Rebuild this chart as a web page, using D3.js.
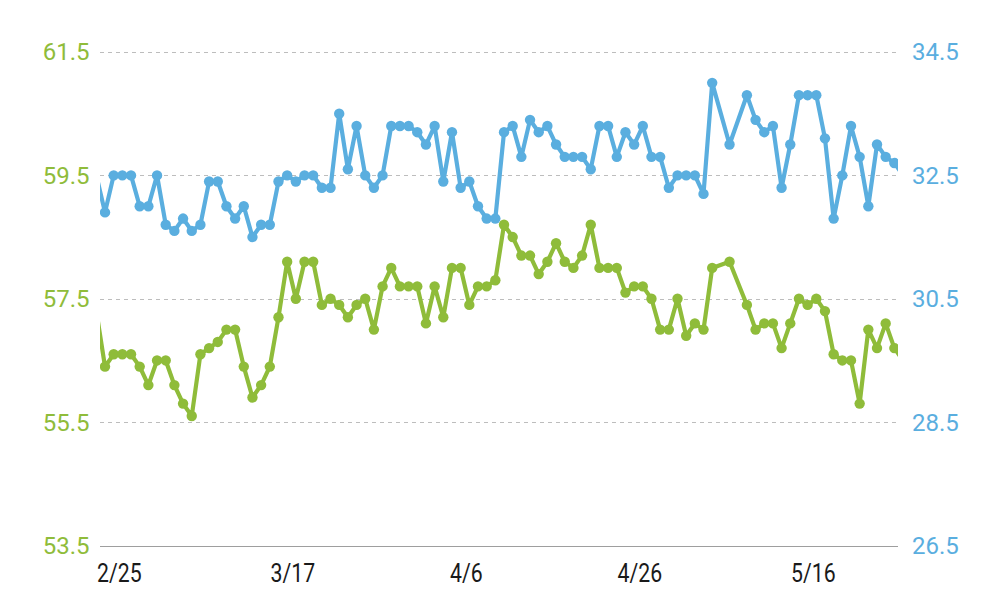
<!DOCTYPE html>
<html><head><meta charset="utf-8">
<script src="https://cdn.jsdelivr.net/npm/d3@7"></script>
<style>body{margin:0;background:#fff;overflow:hidden}</style>
</head><body><svg id="c" width="1000" height="600"></svg>
<script>
const year = 2019;
const dates = ["2/22","2/23","2/24","2/25","2/26","2/27","2/28","3/1","3/2","3/3","3/4","3/5","3/6","3/7","3/8","3/9","3/10","3/11","3/12","3/13","3/14","3/15","3/16","3/17","3/18","3/19","3/20","3/21","3/22","3/23","3/24","3/25","3/26","3/27","3/28","3/29","3/30","3/31","4/1","4/2","4/3","4/4","4/5","4/6","4/7","4/8","4/9","4/10","4/11","4/12","4/13","4/14","4/15","4/16","4/17","4/18","4/19","4/20","4/21","4/22","4/23","4/24","4/25","4/26","4/27","4/28","4/29","4/30","5/1","5/2","5/3","5/4","5/6","5/8","5/9","5/10","5/11","5/12","5/13","5/14","5/15","5/16","5/17","5/18","5/19","5/20","5/21","5/22","5/23","5/24","5/25","5/26"];
const leftSeries = [57.3,56.4,56.6,56.6,56.6,56.4,56.1,56.5,56.5,56.1,55.8,55.6,56.6,56.7,56.8,57.0,57.0,56.4,55.9,56.1,56.4,57.2,58.1,57.5,58.1,58.1,57.4,57.5,57.4,57.2,57.4,57.5,57.0,57.7,58.0,57.7,57.7,57.7,57.1,57.7,57.2,58.0,58.0,57.4,57.7,57.7,57.8,58.7,58.5,58.2,58.2,57.9,58.1,58.4,58.1,58.0,58.2,58.7,58.0,58.0,58.0,57.6,57.7,57.7,57.5,57.0,57.0,57.5,56.9,57.1,57.0,58.0,58.1,57.4,57.0,57.1,57.1,56.7,57.1,57.5,57.4,57.5,57.3,56.6,56.5,56.5,55.8,57.0,56.7,57.1,56.7,56.5];
const rightSeries = [32.5,31.9,32.5,32.5,32.5,32.0,32.0,32.5,31.7,31.6,31.8,31.6,31.7,32.4,32.4,32.0,31.8,32.0,31.5,31.7,31.7,32.4,32.5,32.4,32.5,32.5,32.3,32.3,33.5,32.6,33.3,32.5,32.3,32.5,33.3,33.3,33.3,33.2,33.0,33.3,32.4,33.2,32.3,32.4,32.0,31.8,31.8,33.2,33.3,32.8,33.4,33.2,33.3,33.0,32.8,32.8,32.8,32.6,33.3,33.3,32.8,33.2,33.0,33.3,32.8,32.8,32.3,32.5,32.5,32.5,32.2,34.0,33.0,33.8,33.4,33.2,33.3,32.3,33.0,33.8,33.8,33.8,33.1,31.8,32.5,33.3,32.8,32.0,33.0,32.8,32.7,32.5];
const leftTicks = [53.5,55.5,57.5,59.5,61.5];
const rightTicks = [26.5,28.5,30.5,32.5,34.5];
const xTickLabels = ["2/25","3/17","4/6","4/26","5/16"];

const GREEN = "#8fbc3a", BLUE = "#5aaedf";
const parse = s => { const [m,d] = s.split("/").map(Number); return new Date(Date.UTC(year, m-1, d)); };
const data = dates.map((d,i) => ({date: parse(d), l: leftSeries[i], r: rightSeries[i]}));

const L = 100, R = 898, T = 52, B = 545.5;
const x = d3.scaleUtc()
  .domain([new Date(Date.UTC(year,1,22,10,10)), new Date(Date.UTC(year,4,25,10,5))])
  .range([L, R]);
const yL = d3.scaleLinear().domain([53.5, 61.5]).range([B, T]);
const yR = d3.scaleLinear().domain([26.5, 34.5]).range([B, T]);

const svg = d3.select("#c");
svg.append("defs").append("clipPath").attr("id","clip")
  .append("rect").attr("x", L).attr("y", 0).attr("width", R-L).attr("height", B+2);

// grid
const grid = svg.append("g");
grid.selectAll("line").data(leftTicks.filter(t => t !== 53.5)).join("line")
  .attr("x1", L).attr("x2", R)
  .attr("y1", d => Math.round(yL(d))+0.5).attr("y2", d => Math.round(yL(d))+0.5)
  .attr("stroke", "#bdbdbd").attr("stroke-width", 1).attr("stroke-dasharray", "4,4");
svg.append("line").attr("x1", L).attr("x2", R)
  .attr("y1", Math.round(yL(53.5))+0.5).attr("y2", Math.round(yL(53.5))+0.5)
  .attr("stroke", "#9e9e9e").attr("stroke-width", 1.2);

// left axis labels
svg.append("g").selectAll("text").data(leftTicks).join("text")
  .attr("x", 89.5).attr("y", d => yL(d)).attr("dy", "0.35em")
  .attr("text-anchor", "end").attr("fill", GREEN)
  .style("font-family", "Roboto").style("font-size", "24px")
  .text(d => d.toFixed(1));
// right axis labels
svg.append("g").selectAll("text").data(rightTicks).join("text")
  .attr("x", 912).attr("y", d => yR(d)).attr("dy", "0.35em")
  .attr("text-anchor", "start").attr("fill", BLUE)
  .style("font-family", "Roboto").style("font-size", "24px")
  .text(d => d.toFixed(1));
// x labels
svg.append("g").selectAll("text").data(xTickLabels).join("text")
  .attr("transform", d => `translate(${x(parse(d)) - 3},582) scale(0.85,1)`)
  .attr("text-anchor", "middle").attr("fill", "#1a1a1a")
  .style("font-family", "Roboto").style("font-size", "25px")
  .text(d => d);

const plot = svg.append("g").attr("clip-path", "url(#clip)");
function series(key, yScale, color) {
  const g = plot.append("g");
  g.append("path").datum(data)
    .attr("d", d3.line().x(d => x(d.date)).y(d => yScale(d[key])))
    .attr("fill", "none").attr("stroke", color).attr("stroke-width", 4.2)
    .attr("stroke-linejoin", "round");
  // circles only for points inside the visible plot area
  g.selectAll("circle").data(data.filter(d => x(d.date) >= L && x(d.date) <= R)).join("circle")
    .attr("cx", d => x(d.date)).attr("cy", d => yScale(d[key]))
    .attr("r", 5.2).attr("fill", color);
}
series("l", yL, GREEN);
series("r", yR, BLUE);
</script>
</body></html>
